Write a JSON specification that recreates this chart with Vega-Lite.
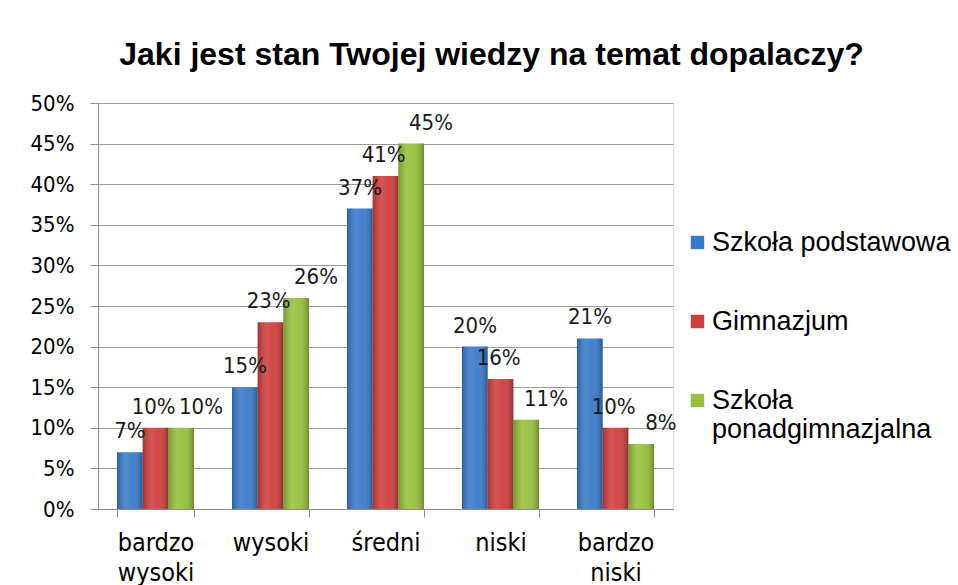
{
  "$schema": "https://vega.github.io/schema/vega-lite/v6.json",
  "width": 575,
  "height": 406,
  "autosize": {"type": "none"},
  "padding": {"left": 98, "top": 103, "right": 285, "bottom": 76},
  "background": "white",
  "title": {
    "text": "Jaki jest stan Twojej wiedzy na temat dopalaczy?",
    "font": "Liberation Sans",
    "fontSize": 32,
    "fontWeight": "bold",
    "color": "#000000",
    "anchor": "middle",
    "dx": 106,
    "offset": 20
  },
  "data": {
    "values": [
      {"poziom": "bardzo wysoki", "szkola": "Szkoła podstawowa", "wartosc": 0.07},
      {"poziom": "bardzo wysoki", "szkola": "Gimnazjum", "wartosc": 0.10},
      {"poziom": "bardzo wysoki", "szkola": "Szkoła ponadgimnazjalna", "wartosc": 0.10},
      {"poziom": "wysoki", "szkola": "Szkoła podstawowa", "wartosc": 0.15},
      {"poziom": "wysoki", "szkola": "Gimnazjum", "wartosc": 0.23},
      {"poziom": "wysoki", "szkola": "Szkoła ponadgimnazjalna", "wartosc": 0.26},
      {"poziom": "średni", "szkola": "Szkoła podstawowa", "wartosc": 0.37},
      {"poziom": "średni", "szkola": "Gimnazjum", "wartosc": 0.41},
      {"poziom": "średni", "szkola": "Szkoła ponadgimnazjalna", "wartosc": 0.45},
      {"poziom": "niski", "szkola": "Szkoła podstawowa", "wartosc": 0.20},
      {"poziom": "niski", "szkola": "Gimnazjum", "wartosc": 0.16},
      {"poziom": "niski", "szkola": "Szkoła ponadgimnazjalna", "wartosc": 0.11},
      {"poziom": "bardzo niski", "szkola": "Szkoła podstawowa", "wartosc": 0.21},
      {"poziom": "bardzo niski", "szkola": "Gimnazjum", "wartosc": 0.10},
      {"poziom": "bardzo niski", "szkola": "Szkoła ponadgimnazjalna", "wartosc": 0.08}
    ]
  },
  "encoding": {
    "x": {
      "field": "poziom",
      "type": "nominal",
      "sort": ["bardzo wysoki", "wysoki", "średni", "niski", "bardzo niski"],
      "scale": {"paddingInner": 0.33, "paddingOuter": 0.165},
      "axis": {
        "title": null,
        "labelAngle": 0,
        "labelExpr": "split(datum.label, ' ')",
        "labelFont": "DejaVu Sans Condensed",
        "labelFontSize": 25,
        "labelColor": "#000000",
        "labelLineHeight": 30,
        "labelPadding": 13,
        "labelBaseline": "top",
        "tickBand": "extent",
        "tickSize": 8,
        "tickColor": "#8c8c8c",
        "domainColor": "#8c8c8c",
        "grid": false
      }
    },
    "y": {
      "field": "wartosc",
      "type": "quantitative",
      "scale": {"domain": [0, 0.5], "nice": false},
      "axis": {
        "title": null,
        "format": ".0%",
        "values": [0, 0.05, 0.1, 0.15, 0.2, 0.25, 0.3, 0.35, 0.4, 0.45, 0.5],
        "labelFont": "DejaVu Sans Condensed",
        "labelFontSize": 22,
        "labelColor": "#000000",
        "labelPadding": 16,
        "tickSize": 8,
        "tickColor": "#8c8c8c",
        "domainColor": "#8c8c8c",
        "grid": true,
        "gridColor": "#9a9a9a",
        "gridWidth": 1
      }
    }
  },
  "layer": [
    {
      "layer": [
        {
          "mark": {"type": "bar"},
          "encoding": {
            "color": {
              "field": "szkola",
              "type": "nominal",
              "sort": ["Szkoła podstawowa", "Gimnazjum", "Szkoła ponadgimnazjalna"],
              "scale": {
                "domain": ["Szkoła podstawowa", "Gimnazjum", "Szkoła ponadgimnazjalna"],
                "range": ["#3a7acb", "#cf3e3e", "#97c03c"]
              },
              "legend": {
                "title": null,
                "orient": "none",
                "legendX": 586,
                "legendY": 126,
                "symbolType": "square",
                "symbolSize": 180,
                "symbolStrokeWidth": 0,
                "labelFont": "Liberation Sans",
                "labelFontSize": 27,
                "labelColor": "#000000",
                "labelOffset": 1,
                "labelLimit": 300,
                "labelLineHeight": 28,
                "rowPadding": 51,
                "labelExpr": "datum.label == 'Szkoła ponadgimnazjalna' ? ['Szkoła', 'ponadgimnazjalna'] : datum.label"
              }
            }
          }
        },
        {
          "mark": {
            "type": "bar",
            "fill": {
              "gradient": "linear",
              "x1": 0, "x2": 1, "y1": 0, "y2": 0,
              "stops": [
                {"offset": 0, "color": "rgba(0,0,0,0.22)"},
                {"offset": 0.35, "color": "rgba(255,255,255,0.12)"},
                {"offset": 0.6, "color": "rgba(255,255,255,0.05)"},
                {"offset": 1, "color": "rgba(0,0,0,0.28)"}
              ]
            }
          }
        }
      ],
      "encoding": {
        "xOffset": {
          "field": "szkola",
          "type": "nominal",
          "sort": ["Szkoła podstawowa", "Gimnazjum", "Szkoła ponadgimnazjalna"]
        }
      }
    },
    {
      "mark": {
        "type": "text",
        "font": "DejaVu Sans Condensed",
        "fontSize": 22,
        "color": "#1a1a1a",
        "baseline": "alphabetic",
        "dy": -14
      },
      "encoding": {
        "xOffset": {
          "field": "szkola",
          "type": "nominal",
          "scale": {
            "domain": ["Szkoła podstawowa", "Gimnazjum", "_", "Szkoła ponadgimnazjalna"],
            "range": [13, 84],
            "paddingInner": 0,
            "paddingOuter": 0
          }
        },
        "text": {"field": "wartosc", "type": "quantitative", "format": ".0%"}
      }
    }
  ],
  "resolve": {"scale": {"xOffset": "independent"}}
}
